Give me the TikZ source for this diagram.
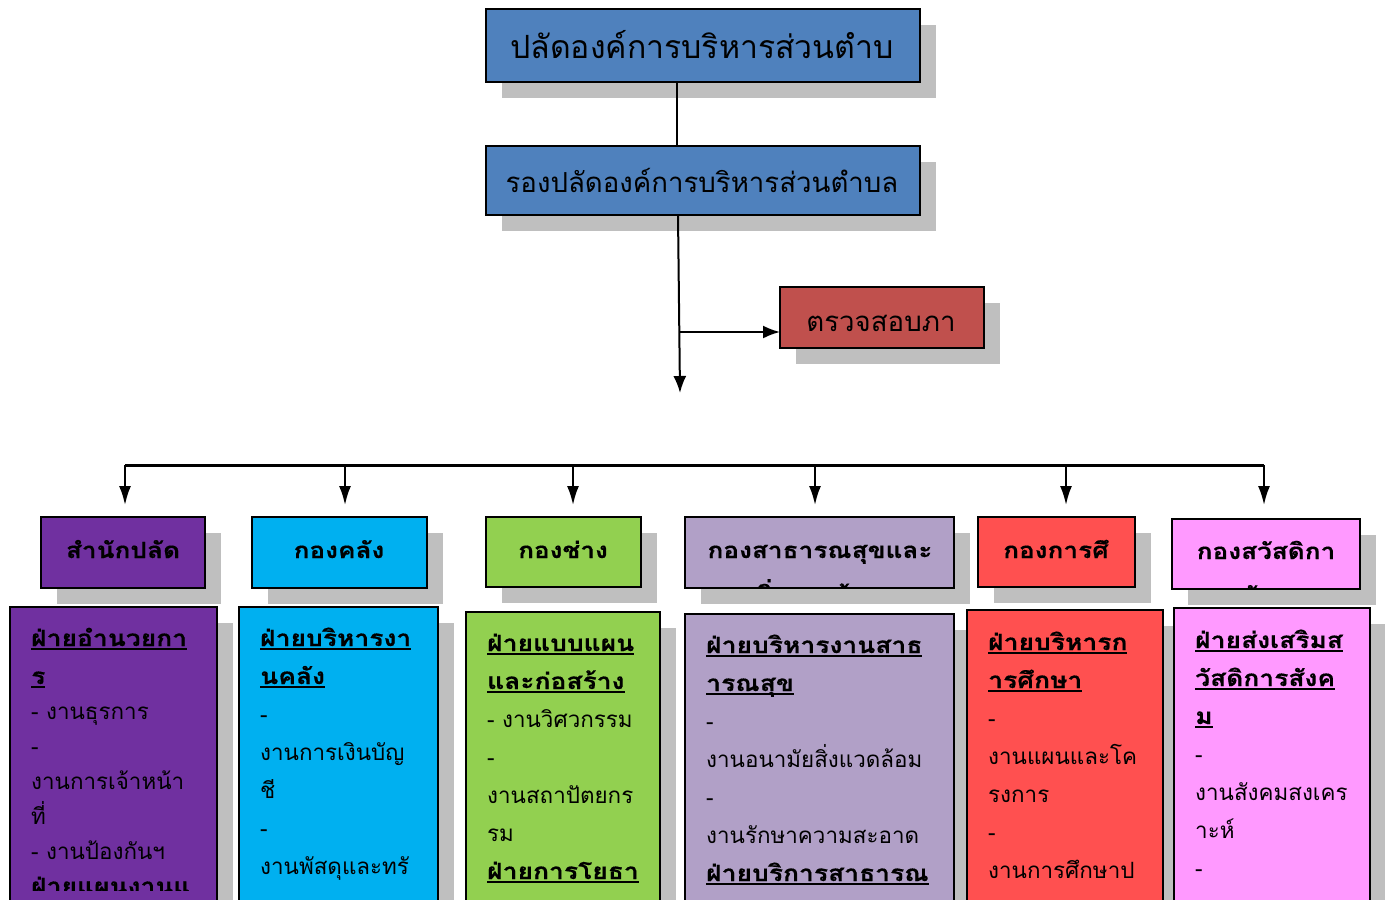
\documentclass[tikz,border=0pt]{standalone}
\usepackage{fontspec}
\newfontfamily\thai[Script=Thai]{Loma}
\usetikzlibrary{arrows.meta}
\definecolor{shad}{HTML}{BFBFBF}
\definecolor{topblue}{HTML}{4F81BD}
\definecolor{auditred}{HTML}{C0504D}
\definecolor{cpurple}{HTML}{7030A0}
\definecolor{ccyan}{HTML}{00B0F0}
\definecolor{cgreen}{HTML}{92D050}
\definecolor{clilac}{HTML}{B1A0C7}
\definecolor{cred}{HTML}{FF5050}
\definecolor{cpink}{HTML}{FF99FF}
\newcommand\bt{\bfseries\addfontfeatures{FakeStretch=1.18,FakeBold=0.4}}
\newcommand\ulx[1]{\leavevmode\setbox0=\hbox{#1}\rlap{\rule[-3.5pt]{\wd0}{1.8pt}}\box0}
\newcommand\bu[1]{\leavevmode{\bt\ulx{#1}}}
\newcommand\orgbox[6]{%
  \fill[shad] ({#2+16},{#3+16}) rectangle ({#4+16},{#5+16});
  \node[orgb, fill=#6, minimum width={#4-#2}, minimum height={#5-#3}] (#1) at ({(#2+#4)/2},{(#3+#5)/2}) {};
}
\tikzset{
  orgb/.style={draw=black, line width=2.5pt, inner sep=0pt, outer sep=0pt},
  conn/.style={line width=2pt, -{Latex[length=17pt,width=13pt]}},
  busarrow/.style={line width=2pt, -{Latex[length=19pt,width=12pt]}},
  plain/.style={line width=2pt},
  bus/.style={line width=3pt},
  bodytxt/.style={anchor=base west, inner sep=0pt, text width=400pt, align=left, font=\thai\fontsize{22.4}{38}\selectfont},
  headtxt/.style={anchor=base, inner sep=0pt, text width=400pt, align=center, font={\thai\fontsize{22.2}{44}\selectfont\bt}},
}
\begin{document}
\begin{tikzpicture}[x=1pt,y=-1pt]
\useasboundingbox (0,0) rectangle (1385,900);
\clip (0,0) rectangle (1385,900);
\fill[white] (0,0) rectangle (1385,900);

\coordinate (bend) at (680,332);
\coordinate (down) at (680,393);
\coordinate (busL) at (125,465);
\coordinate (busR) at (1264,465);
\coordinate (a1) at (125,505);
\coordinate (a2) at (345,505);
\coordinate (a3) at (573,505);
\coordinate (a4) at (815,505);
\coordinate (a5) at (1066,505);
\coordinate (a6) at (1264,505);

% top boxes
\orgbox{top}{486}{9}{920}{82}{topblue}
\orgbox{sub}{486}{146}{920}{215}{topblue}
\orgbox{audit}{780}{287}{984}{348}{auditred}
\node[font=\thai\fontsize{32}{36}\selectfont, inner sep=0pt] (toptxt) at (702,45) {ปลัดองค์การบริหารส่วนตำบ};
\node[font=\thai\fontsize{27.6}{32}\selectfont, inner sep=0pt] (subtxt) at (702,180) {รองปลัดองค์การบริหารส่วนตำบล};
\node[font=\thai\fontsize{27.6}{32}\selectfont, inner sep=0pt] (audittxt) at (881,323) {ตรวจสอบภา};

\draw[plain] ([xshift=-26pt]top.south) -- ([xshift=-26pt]sub.north);
\draw[conn] ([xshift=-25pt]sub.south) -- (down);
\draw[conn] (bend) -- (audit.west |- bend);

\draw[bus] (busL) -- (busR);
\foreach \a in {a1,a2,a3,a4,a5,a6}{\draw[busarrow] (\a |- busL) -- (\a);}

% header boxes
\orgbox{h1}{41}{517}{205}{588}{cpurple}
\orgbox{h2}{252}{517}{427}{588}{ccyan}
\orgbox{h3}{486}{517}{641}{587}{cgreen}
\orgbox{h4}{685}{517}{954}{588}{clilac}
\orgbox{h5}{978}{517}{1135}{587}{cred}
\orgbox{h6}{1172}{519}{1360}{589}{cpink}

\begin{scope}\clip (43,519) rectangle (203,586);
\node[headtxt] (h1t) at (123,558) {สำนักปลัด};\end{scope}
\begin{scope}\clip (254,519) rectangle (425,586);
\node[headtxt] (h2t) at (339,558) {กองคลัง};\end{scope}
\begin{scope}\clip (488,519) rectangle (639,585);
\node[headtxt] (h3t) at (563,558) {กองช่าง};\end{scope}
\begin{scope}\clip (687,519) rectangle (952,586);
\node[headtxt] (h4t) at (820,558) {กองสาธารณสุขและ\\สิ่งแวดล้อม};\end{scope}
\begin{scope}\clip (980,519) rectangle (1133,585);
\node[headtxt] (h5t) at (1056,558) {กองการศึ\\กษา};\end{scope}
\begin{scope}\clip (1174,521) rectangle (1358,587);
\node[headtxt] (h6t) at (1266,559) {กองสวัสดิกา\\รสังคม};\end{scope}

% lower boxes
\orgbox{b1}{10}{607}{217}{920}{cpurple}
\orgbox{b2}{239}{607}{438}{920}{ccyan}
\orgbox{b3}{466}{612}{660}{920}{cgreen}
\orgbox{b4}{685}{614}{954}{920}{clilac}
\orgbox{b5}{967}{610}{1163}{920}{cred}
\orgbox{b6}{1174}{608}{1370}{920}{cpink}

\begin{scope}\clip (12,609) rectangle (215,890);
\node[bodytxt] (b1t) at (31,646) {\bu{ฝ่ายอำนวยกา}\\[0pt]\bu{ร}\\[-3pt]- งานธุรการ\\[-3pt]-\\[-3pt]งานการเจ้าหน้า\\[-3pt]ที่\\[-3pt]- งานป้องกันฯ\\[-3pt]\bu{ฝ่ายแผนงานแ}};
\end{scope}
\begin{scope}\clip (241,609) rectangle (436,893);
\node[bodytxt] (b2t) at (260,646) {\bu{ฝ่ายบริหารงา}\\\bu{นคลัง}\\-\\งานการเงินบัญ\\ชี\\-\\งานพัสดุและทรั};
\end{scope}
\begin{scope}\clip (468,614) rectangle (658,893);
\node[bodytxt] (b3t) at (487,651) {\bu{ฝ่ายแบบแผน}\\\bu{และก่อสร้าง}\\- งานวิศวกรรม\\-\\งานสถาปัตยกร\\รม\\\bu{ฝ่ายการโยธา}};
\end{scope}
\begin{scope}\clip (687,616) rectangle (952,893);
\node[bodytxt] (b4t) at (706,653) {\bu{ฝ่ายบริหารงานสาธ}\\\bu{ารณสุข}\\-\\งานอนามัยสิ่งแวดล้อม\\-\\งานรักษาความสะอาด\\\bu{ฝ่ายบริการสาธารณ}};
\end{scope}
\begin{scope}\clip (969,612) rectangle (1161,893);
\node[bodytxt] (b5t) at (988,650) {\bu{ฝ่ายบริหารก}\\\bu{ารศึกษา}\\-\\งานแผนและโค\\รงการ\\-\\งานการศึกษาป};
\end{scope}
\begin{scope}\clip (1176,610) rectangle (1368,893);
\node[bodytxt] (b6t) at (1195,648) {\bu{ฝ่ายส่งเสริมส}\\\bu{วัสดิการสังค}\\\bu{ม}\\-\\งานสังคมสงเคร\\าะห์\\-};
\end{scope}
\end{tikzpicture}
\end{document}
